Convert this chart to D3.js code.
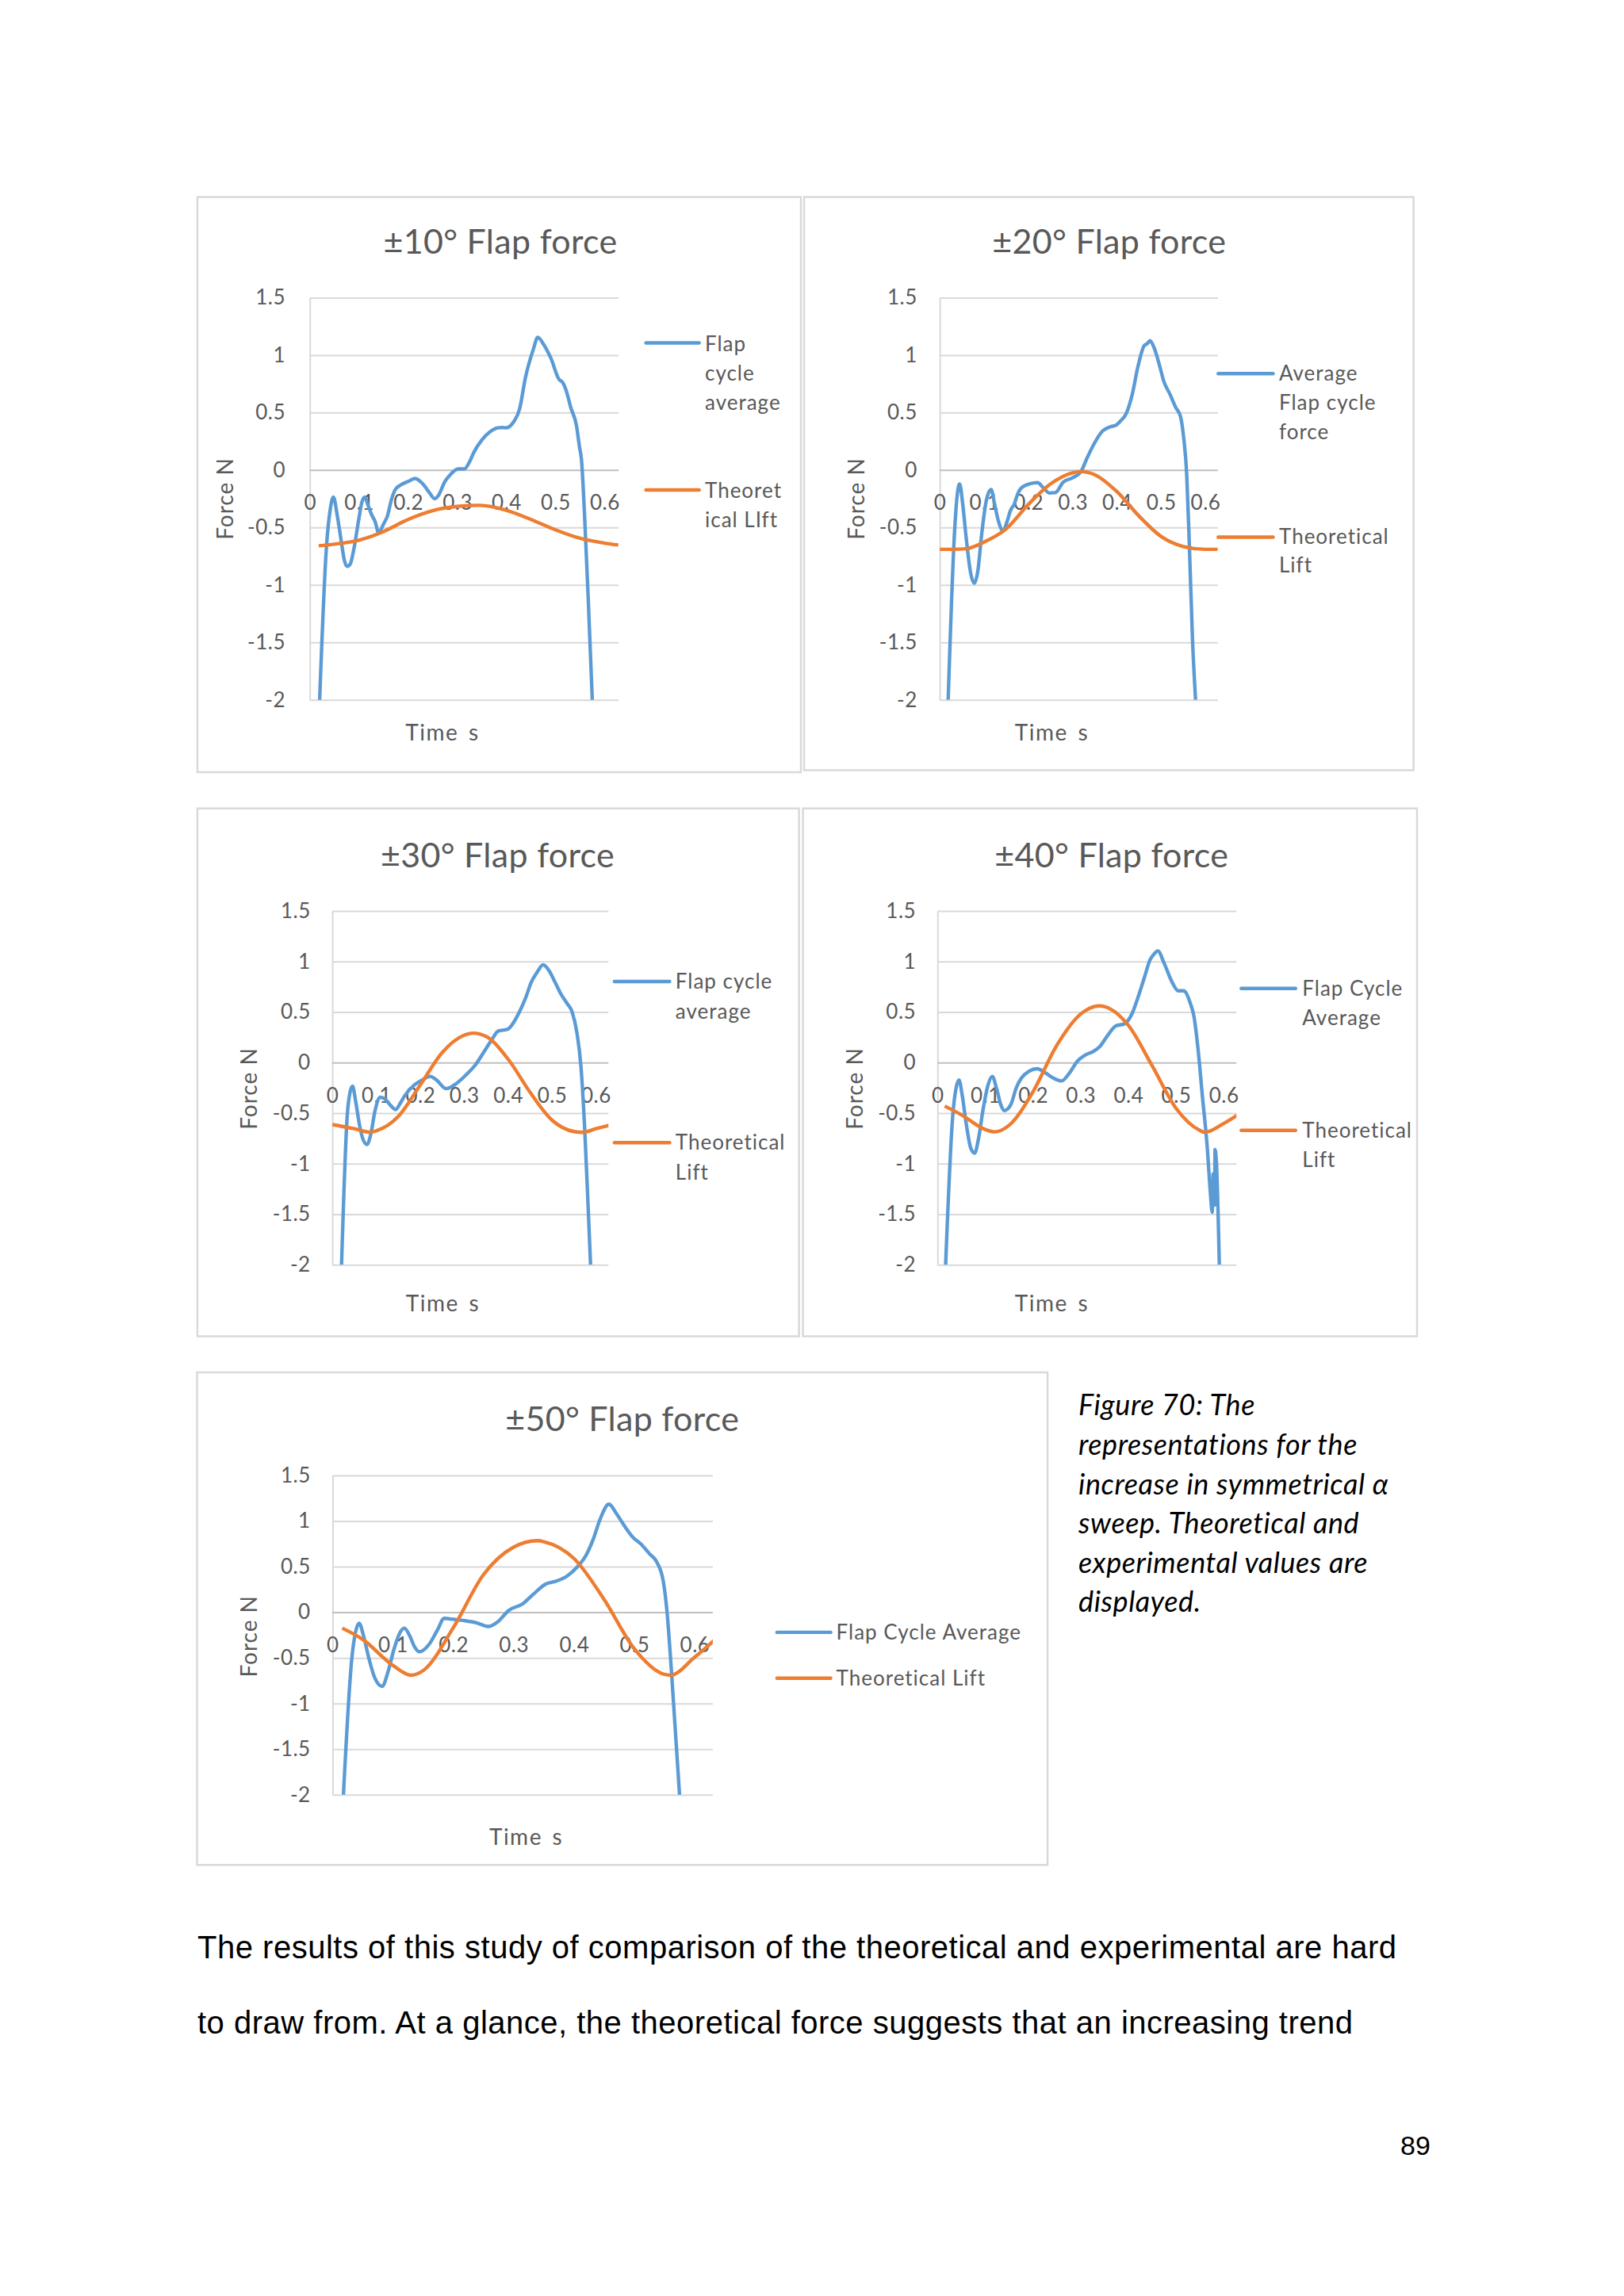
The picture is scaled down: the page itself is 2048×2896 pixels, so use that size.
<!DOCTYPE html>
<html><head><meta charset="utf-8">
<script src="https://cdn.jsdelivr.net/npm/d3@7"></script>
<style>body{margin:0;background:#fff}svg{display:block}</style>
</head><body>
<svg id="page" width="2048" height="2896"></svg>
<script>
// ---------- data ----------
const yTicks = [1.5, 1, 0.5, 0, -0.5, -1, -1.5, -2];
const xTicks = [0, 0.1, 0.2, 0.3, 0.4, 0.5, 0.6];
const titles = ["±10° Flap force", "±20° Flap force", "±30° Flap force", "±40° Flap force", "±50° Flap force"];
const blueNames = [["Flap", "cycle", "average"], ["Average", "Flap cycle", "force"], ["Flap cycle", "average"], ["Flap Cycle", "Average"], ["Flap Cycle Average"]];
const orangeNames = [["Theoret", "ical LIft"], ["Theoretical", "Lift"], ["Theoretical", "Lift"], ["Theoretical", "Lift"], ["Theoretical Lift"]];

const flap10 = [[0.020,-2.0],[0.034,-0.66],[0.041,-0.36],[0.048,-0.235],[0.056,-0.40],[0.064,-0.62],[0.070,-0.78],[0.076,-0.838],[0.082,-0.82],[0.090,-0.68],[0.100,-0.42],[0.106,-0.28],[0.112,-0.235],[0.118,-0.30],[0.126,-0.39],[0.133,-0.45],[0.140,-0.545],[0.150,-0.47],[0.158,-0.40],[0.166,-0.26],[0.174,-0.17],[0.185,-0.13],[0.200,-0.10],[0.214,-0.073],[0.230,-0.12],[0.244,-0.20],[0.254,-0.25],[0.262,-0.22],[0.275,-0.10],[0.286,-0.04],[0.302,0.009],[0.315,0.01],[0.325,0.07],[0.334,0.155],[0.350,0.26],[0.367,0.334],[0.383,0.367],[0.392,0.37],[0.399,0.367],[0.415,0.42],[0.427,0.53],[0.439,0.806],[0.455,1.05],[0.464,1.155],[0.475,1.10],[0.491,0.97],[0.507,0.79],[0.515,0.76],[0.523,0.676],[0.531,0.546],[0.543,0.383],[0.549,0.2],[0.553,0.09],[0.559,-0.366],[0.567,-1.147],[0.575,-2.0]];
const theory10 = [[0.018,-0.659],[0.05,-0.645],[0.1,-0.61],[0.15,-0.535],[0.2,-0.43],[0.25,-0.353],[0.3,-0.317],[0.346,-0.307],[0.4,-0.35],[0.45,-0.43],[0.5,-0.52],[0.55,-0.594],[0.6,-0.636],[0.628,-0.652]];

const flap20 = [[0.019,-2.0],[0.034,-0.50],[0.040,-0.2],[0.045,-0.122],[0.052,-0.3],[0.060,-0.6],[0.070,-0.9],[0.078,-0.985],[0.086,-0.88],[0.095,-0.55],[0.105,-0.27],[0.116,-0.17],[0.124,-0.30],[0.133,-0.45],[0.143,-0.53],[0.152,-0.45],[0.160,-0.35],[0.168,-0.30],[0.177,-0.20],[0.185,-0.154],[0.203,-0.12],[0.221,-0.11],[0.234,-0.154],[0.248,-0.20],[0.261,-0.197],[0.279,-0.105],[0.301,-0.066],[0.319,-0.014],[0.333,0.106],[0.350,0.237],[0.368,0.34],[0.386,0.377],[0.398,0.39],[0.408,0.425],[0.422,0.497],[0.435,0.66],[0.448,0.904],[0.462,1.083],[0.469,1.10],[0.475,1.126],[0.484,1.067],[0.497,0.904],[0.506,0.774],[0.520,0.66],[0.533,0.546],[0.544,0.465],[0.551,0.285],[0.558,-0.04],[0.564,-0.66],[0.571,-1.47],[0.578,-2.0]];
const theory20 = [[0,-0.69],[0.03,-0.69],[0.06,-0.685],[0.1,-0.627],[0.15,-0.512],[0.2,-0.30],[0.25,-0.122],[0.3,-0.024],[0.32,-0.014],[0.35,-0.04],[0.4,-0.187],[0.45,-0.40],[0.5,-0.578],[0.55,-0.665],[0.6,-0.69],[0.628,-0.69]];

const flap30 = [[0.021,-2.0],[0.034,-0.52],[0.040,-0.30],[0.046,-0.233],[0.053,-0.38],[0.062,-0.62],[0.070,-0.76],[0.079,-0.809],[0.088,-0.70],[0.097,-0.48],[0.109,-0.343],[0.120,-0.36],[0.132,-0.42],[0.144,-0.464],[0.155,-0.40],[0.165,-0.326],[0.187,-0.22],[0.205,-0.171],[0.223,-0.136],[0.237,-0.171],[0.259,-0.257],[0.277,-0.223],[0.305,-0.119],[0.327,-0.015],[0.345,0.105],[0.363,0.226],[0.378,0.313],[0.399,0.33],[0.413,0.399],[0.426,0.502],[0.440,0.64],[0.453,0.796],[0.467,0.9],[0.480,0.968],[0.494,0.906],[0.507,0.796],[0.521,0.675],[0.534,0.589],[0.546,0.502],[0.557,0.295],[0.566,-0.033],[0.575,-0.688],[0.582,-1.379],[0.588,-2.0]];
const theory30 = [[0,-0.613],[0.05,-0.654],[0.088,-0.688],[0.1,-0.675],[0.15,-0.533],[0.2,-0.222],[0.25,0.099],[0.3,0.271],[0.32,0.292],[0.35,0.26],[0.4,0.036],[0.45,-0.292],[0.5,-0.568],[0.55,-0.682],[0.57,-0.69],[0.6,-0.654],[0.63,-0.62]];

const flap40 = [[0.017,-2.0],[0.032,-0.52],[0.039,-0.25],[0.045,-0.171],[0.052,-0.33],[0.060,-0.60],[0.070,-0.85],[0.078,-0.896],[0.086,-0.75],[0.096,-0.45],[0.106,-0.22],[0.115,-0.136],[0.124,-0.26],[0.133,-0.42],[0.140,-0.474],[0.154,-0.412],[0.165,-0.25],[0.176,-0.153],[0.192,-0.084],[0.209,-0.06],[0.226,-0.10],[0.243,-0.153],[0.260,-0.181],[0.277,-0.10],[0.294,0.019],[0.311,0.078],[0.327,0.112],[0.340,0.157],[0.357,0.271],[0.374,0.364],[0.391,0.382],[0.408,0.485],[0.420,0.64],[0.433,0.83],[0.446,1.02],[0.455,1.08],[0.462,1.106],[0.475,0.986],[0.492,0.796],[0.505,0.71],[0.516,0.71],[0.530,0.589],[0.538,0.451],[0.547,0.105],[0.555,-0.309],[0.566,-0.861],[0.572,-1.275],[0.576,-1.48],[0.578,-1.10],[0.581,-1.41],[0.582,-0.86],[0.585,-0.999],[0.591,-2.0]];
const theory40 = [[0.015,-0.43],[0.05,-0.516],[0.1,-0.661],[0.12,-0.685],[0.15,-0.62],[0.2,-0.29],[0.25,0.17],[0.3,0.48],[0.34,0.561],[0.35,0.554],[0.4,0.37],[0.45,-0.03],[0.5,-0.45],[0.55,-0.67],[0.56,-0.689],[0.6,-0.602],[0.632,-0.51]];

const flap50 = [[0.018,-2.0],[0.032,-0.50],[0.038,-0.22],[0.044,-0.12],[0.051,-0.25],[0.060,-0.50],[0.070,-0.72],[0.082,-0.812],[0.092,-0.65],[0.102,-0.40],[0.112,-0.22],[0.119,-0.174],[0.128,-0.26],[0.136,-0.38],[0.144,-0.433],[0.160,-0.351],[0.174,-0.191],[0.185,-0.067],[0.201,-0.078],[0.219,-0.092],[0.237,-0.113],[0.258,-0.156],[0.274,-0.103],[0.292,0.021],[0.315,0.092],[0.333,0.199],[0.352,0.305],[0.370,0.34],[0.388,0.394],[0.406,0.50],[0.420,0.624],[0.432,0.801],[0.443,1.014],[0.458,1.184],[0.470,1.085],[0.484,0.943],[0.498,0.819],[0.511,0.748],[0.525,0.642],[0.537,0.553],[0.548,0.34],[0.554,0.021],[0.562,-0.688],[0.569,-1.397],[0.575,-2.0]];
const theory50 = [[0.016,-0.174],[0.05,-0.298],[0.1,-0.582],[0.13,-0.69],[0.15,-0.64],[0.2,-0.17],[0.25,0.411],[0.3,0.713],[0.34,0.784],[0.35,0.773],[0.4,0.589],[0.45,0.14],[0.5,-0.40],[0.55,-0.681],[0.56,-0.69],[0.6,-0.493],[0.634,-0.298]];

const flapSeries = [flap10, flap20, flap30, flap40, flap50];
const theorySeries = [theory10, theory20, theory30, theory40, theory50];

const captionLines = ["Figure 70: The", "representations for the", "increase in symmetrical α", "sweep. Theoretical and", "experimental values are", "displayed."];
const bodyLines = ["The results of this study of comparison of the theoretical and experimental are hard", "to draw from. At a glance, the theoretical force suggests that an increasing trend"];
const pageNumber = "89";

// ---------- layout ----------
const layout = [
  {frame:[249,248.5,1010,974], x0:390.7, x06:762.4, right:780.2, yt:375.4, yb:882.8, title:[631,320], tickR:360, yLab:[283.8,629], xLab:[558,924],
   leg:{x0:814.6,x1:881.7,tx:889,by:432.5,bl:[433.5,471,508],oy:618,ol:[619,656]}},
  {frame:[1014,248.5,1782.6,971.5], x0:1185.1, x06:1520, right:1535.8, yt:375.4, yb:882.8, title:[1398.8,320], tickR:1156.8, yLab:[1079.6,629], xLab:[1326.4,924],
   leg:{x0:1536.3,x1:1605.5,tx:1613,by:471.2,bl:[471,508,544.4],oy:677.5,ol:[676.5,713]}},
  {frame:[249,1019.7,1007.6,1685.5], x0:419.1, x06:751.4, right:767.3, yt:1149.1, yb:1595.3, title:[627.5,1093.6], tickR:391.7, yLab:[313.6,1373], xLab:[558.4,1643.7],
   leg:{x0:774.8,x1:844.4,tx:851.8,by:1238,bl:[1238,1275.3],oy:1441.2,ol:[1441,1478.6]}},
  {frame:[1012.6,1019.7,1787,1685.5], x0:1182.3, x06:1543.1, right:1559.2, yt:1149.1, yb:1595.3, title:[1401.8,1093.6], tickR:1155.1, yLab:[1078,1373], xLab:[1326.4,1643.7],
   leg:{x0:1565.3,x1:1633.8,tx:1642.3,by:1246.7,bl:[1246.7,1283.7],oy:1425.8,ol:[1425.8,1463]}},
  {frame:[248.5,1731,1321,2352.3], x0:419.4, x06:876, right:898.9, yt:1860.9, yb:2263.8, title:[784.7,1804.6], tickR:391.7, yLab:[314.2,2063.8], xLab:[663.6,2316.8],
   leg:{x0:979.8,x1:1047.6,tx:1054.6,by:2058.9,bl:[2058.9],oy:2116.8,ol:[2116.8]}}
];

const BLUE = "#5B9BD5", ORANGE = "#ED7D31", GRID = "#D9D9D9", TXT = "#595959";
const FONT = "Lato, 'Open Sans', sans-serif";

const svg = d3.select("#page");
svg.append("rect").attr("width",2048).attr("height",2896).attr("fill","#fff");

layout.forEach((L, i) => {
  const g = svg.append("g");
  const [fx0, fy0, fx1, fy1] = L.frame;
  g.append("rect").attr("x",fx0).attr("y",fy0).attr("width",fx1-fx0).attr("height",fy1-fy0)
    .attr("fill","#fff").attr("stroke",GRID).attr("stroke-width",2.5);

  const x = d3.scaleLinear().domain([0,0.6]).range([L.x0, L.x06]);
  const y = d3.scaleLinear().domain([-2,1.5]).range([L.yb, L.yt]);
  const w = L.right - L.x0;

  // y axis with gridlines
  const ya = g.append("g").attr("transform",`translate(${L.x0},0)`)
    .call(d3.axisLeft(y).tickValues(yTicks).tickSize(-w).tickSizeOuter(0)
      .tickPadding(L.x0 - L.tickR).tickFormat(d => String(d)));
  ya.select(".domain").attr("stroke",GRID).attr("stroke-width",2);
  ya.selectAll(".tick line").attr("stroke", d => d === 0 ? "#BFBFBF" : GRID).attr("stroke-width",2);
  ya.selectAll(".tick text").attr("fill",TXT).attr("font-family",FONT).attr("font-size",26)
    .attr("letter-spacing",0.5);

  // x axis labels at y=0
  const xa = g.append("g").attr("transform",`translate(0,${y(0)})`)
    .call(d3.axisBottom(x).tickValues(xTicks).tickSize(0).tickFormat(d => String(d)));
  xa.select(".domain").remove();
  xa.selectAll(".tick text").attr("y",41).attr("dy","0.36em")
    .attr("fill",TXT).attr("font-family",FONT).attr("font-size",26).attr("letter-spacing",0.5);

  // clip
  const cid = "clip" + i;
  g.append("clipPath").attr("id",cid).append("rect")
    .attr("x",L.x0).attr("y",L.yt-10).attr("width",w).attr("height",L.yb-L.yt+10);

  const line = d3.line().x(d => x(d[0])).y(d => y(d[1])).curve(d3.curveMonotoneX);
  const cg = g.append("g").attr("clip-path",`url(#${cid})`);
  cg.append("path").datum(flapSeries[i]).attr("d",line).attr("fill","none")
    .attr("stroke",BLUE).attr("stroke-width",4.4).attr("stroke-linejoin","round");
  cg.append("path").datum(theorySeries[i]).attr("d",line).attr("fill","none")
    .attr("stroke",ORANGE).attr("stroke-width",4.4).attr("stroke-linejoin","round");

  // title
  g.append("text").attr("x",L.title[0]).attr("y",L.title[1]).attr("text-anchor","middle")
    .attr("fill",TXT).attr("font-family",FONT).attr("font-size",43).attr("letter-spacing",0.3).text(titles[i]);
  // axis titles
  g.append("text").attr("transform",`translate(${L.yLab[0]},${L.yLab[1]}) rotate(-90)`)
    .attr("text-anchor","middle").attr("dy","0.36em").attr("letter-spacing",1)
    .attr("fill",TXT).attr("font-family",FONT).attr("font-size",28).text("Force N");
  g.append("text").attr("x",L.xLab[0]).attr("y",L.xLab[1]).attr("dy","0.36em").attr("text-anchor","middle")
    .attr("letter-spacing",1.5).attr("word-spacing",4)
    .attr("fill",TXT).attr("font-family",FONT).attr("font-size",28).text("Time s");

  // legend
  const lg = L.leg;
  g.append("line").attr("x1",lg.x0).attr("x2",lg.x1).attr("y1",lg.by).attr("y2",lg.by)
    .attr("stroke",BLUE).attr("stroke-width",4.4).attr("stroke-linecap","round");
  g.append("line").attr("x1",lg.x0).attr("x2",lg.x1).attr("y1",lg.oy).attr("y2",lg.oy)
    .attr("stroke",ORANGE).attr("stroke-width",4.4).attr("stroke-linecap","round");
  blueNames[i].forEach((t,k) => g.append("text").attr("x",lg.tx).attr("y",lg.bl[k]).attr("dy","0.36em")
    .attr("letter-spacing",1).attr("fill",TXT).attr("font-family",FONT).attr("font-size",26).text(t));
  orangeNames[i].forEach((t,k) => g.append("text").attr("x",lg.tx).attr("y",lg.ol[k]).attr("dy","0.36em")
    .attr("letter-spacing",1).attr("fill",TXT).attr("font-family",FONT).attr("font-size",26).text(t));
});

// caption
const capY = [1785, 1835, 1885, 1934, 1984, 2033];
captionLines.forEach((t,k) => svg.append("text").attr("x",1360).attr("y",capY[k])
  .attr("font-family",FONT).attr("font-style","italic").attr("font-size",36).attr("letter-spacing",0.6)
  .attr("fill","#000").text(t));

// body text
const bodyY = [2470, 2565], bodyW = [1512, 1457];
bodyLines.forEach((t,k) => svg.append("text").attr("x",249).attr("y",bodyY[k])
  .attr("font-family","'Liberation Sans', Arial, sans-serif").attr("font-size",40).attr("fill","#000")
  .attr("textLength",bodyW[k]).attr("lengthAdjust","spacing").text(t));

svg.append("text").attr("x",1785).attr("y",2718).attr("text-anchor","middle")
  .attr("font-family","'Liberation Sans', Arial, sans-serif").attr("font-size",34).attr("fill","#000").text(pageNumber);
</script>
</body></html>
